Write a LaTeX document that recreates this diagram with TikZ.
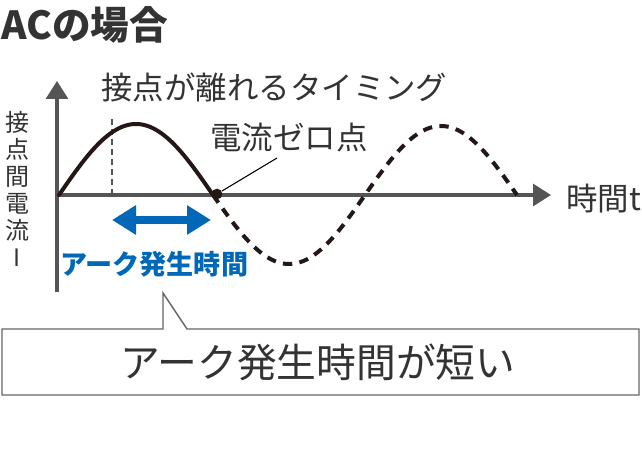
\documentclass[tikz,border=0pt]{standalone}
\usepackage{fontspec}
\setmainfont{Noto Sans CJK JP}
\usetikzlibrary{arrows.meta}
\definecolor{axisgray}{HTML}{555555}
\definecolor{txt}{HTML}{333333}
\definecolor{arcblue}{HTML}{0068B7}
\definecolor{boxgray}{HTML}{666666}
\definecolor{waveblack}{HTML}{231815}
\tikzset{
  axisline/.style={draw=axisgray, line width=2.3pt, -{Triangle[length=13.5pt,width=16.5pt]}},
  wave/.style={draw=waveblack, line width=3pt},
  dashwave/.style={wave, dash pattern=on 7pt off 5.5pt},
  lbl/.style={text=txt, inner sep=0pt, anchor=west},
}
\begin{document}
\begin{tikzpicture}[x=0.75pt, y=-0.75pt]
\useasboundingbox (0,0) rectangle (642,452);
% title
\node[lbl, font=\bfseries\fontsize{29}{31}\selectfont] (title) at (1,25) {ACの場合};
% axes
\coordinate (O) at (57,195);
\coordinate (ytop) at (57,81);
\coordinate (ybot) at (57,292);
\coordinate (xend) at (551,195);
\draw[axisgray, line width=2.3pt] (O) -- (ybot);
\draw[axisline] (O) -- (ytop);
\draw[axisline] (O) -- (xend);
% timing dashed line
\coordinate (t1) at (112,117);
\coordinate (t0) at (112,195);
\draw[axisgray, line width=0.8pt, dash pattern=on 4.5pt off 3pt] (t0) -- (t1);
% waves
\draw[wave, line cap=round] plot[domain=59:213, samples=60] (\x, {195 - 71*sin((\x-59)/154*180)});
\draw[dashwave] plot[domain=213:517, samples=120] (\x, {195 + 69*sin((\x-213)/152*180)});
% zero point
\node[circle, fill=waveblack, inner sep=0pt, minimum size=8pt] (zero) at (217,194) {};
\coordinate (lead) at (277,158);
\draw[black, line width=0.8pt] (zero) -- (lead);
% labels
\node[lbl, font=\fontsize{23.6}{25}\selectfont] (timing) at (101,87) {接点が離れるタイミング};
\node[lbl, font=\fontsize{23.6}{25}\selectfont] (zerolbl) at (210,138) {電流ゼロ点};
\node[lbl, font=\fontsize{23.6}{25}\selectfont] (tlbl) at (566,199) {時間t};
\node[text=txt, inner sep=0pt, align=center, font=\fontsize{18}{20.2}\selectfont] (ylbl) at (17,189) {接\\点\\間\\電\\流\\I};
% arc time arrow
\coordinate (a1) at (112,220);
\coordinate (a2) at (211,220);
\draw[arcblue, line width=6pt, {Triangle[length=18pt,width=21pt]}-{Triangle[length=18pt,width=21pt]}] (a1) -- (a2);
\node[lbl, text=arcblue, font=\bfseries\fontsize{20.3}{22}\selectfont] (arclbl) at (60,264) {アーク発生時間};
% callout
\draw[boxgray, line width=1.1pt, fill=white] (2,329) -- (163,329) -- (163,293) -- (187,329) -- (639,329) -- (639,395) -- (2,395) -- cycle;
\node[lbl, font=\fontsize{29.8}{31}\selectfont] (callout) at (120,362) {アーク発生時間が短い};
\end{tikzpicture}
\end{document}
